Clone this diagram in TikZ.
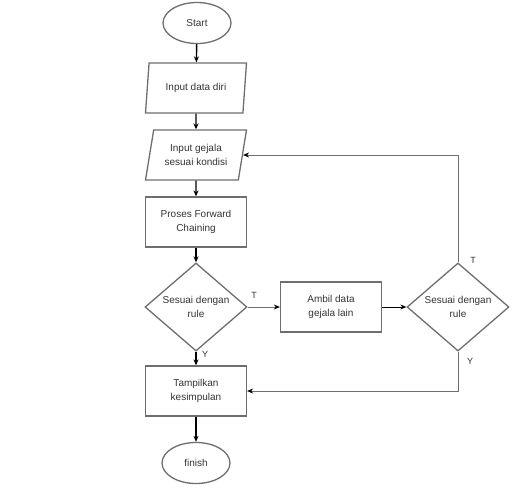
\documentclass[tikz,border=0pt]{standalone}
\usepackage{fontspec}
\setmainfont{Liberation Sans}
\usetikzlibrary{shapes.geometric, arrows.meta}

\definecolor{edgegray}{HTML}{6E6E6E}
\definecolor{textgray}{HTML}{333333}

\tikzset{
  box/.style={draw=edgegray, line width=1.3pt, text=textgray, align=center,
    minimum width=101pt, minimum height=50pt, inner sep=0pt},
  ioslant/.style={box, trapezium, trapezium left angle=69, trapezium right angle=111,
    trapezium stretches body=true},
  ask/.style={box, diamond, minimum width=102pt, minimum height=86pt},
  term/.style={box, ellipse, minimum width=68pt, minimum height=41pt},
  flow/.style={line width=1.4pt, -{Stealth[length=6pt, width=5pt]}},
  back/.style={draw=edgegray, line width=0.9pt, -{Stealth[length=6pt, width=5pt, black]}},
  tag/.style={text=textgray, font=\fontsize{9}{10}\selectfont}
}

\begin{document}
\begin{tikzpicture}[x=1pt, y=1pt, font=\fontsize{10}{14}\selectfont]
  \useasboundingbox (0,0) rectangle (522,-493);

  \node [term]    (start) at (197, -23)  {Start};
  \node [ioslant] (self)  at (196, -88)  {Input data diri};
  \node [ioslant] (sympt) at (196, -155) {Input gejala\\sesuai kondisi};
  \node [box]     (fwd)   at (196, -222) {Proses Forward\\Chaining};
  \node [ask]     (rule)  at (196, -307) {Sesuai dengan\\rule};
  \node [box]     (other) at (331, -307) {Ambil data\\gejala lain};
  \node [ask]     (again) at (458, -307) {Sesuai dengan\\rule};
  \node [box]     (show)  at (196, -391) {Tampilkan\\kesimpulan};
  \node [term]    (end)   at (196, -463) {finish};

  \draw [flow] (start) -- (self);
  \draw [flow] (self) -- (sympt);
  \draw [flow] (sympt) -- (fwd);
  \draw [flow] (fwd) -- (rule);
  \draw [flow] (rule) -- (show);
  \draw [flow] (show) -- (end);
  \draw [back] (rule) -- (other);
  \draw [flow, line width=1pt] (other) -- (again);
  \draw [back] (again.north) |- (sympt.east);
  \draw [back] (again.south) |- (show.east);

  \node [tag] (t1) at (254, -295) {T};
  \node [tag] (y1) at (205, -354) {Y};
  \node [tag] (t2) at (473, -260) {T};
  \node [tag] (y2) at (470, -361) {Y};
\end{tikzpicture}
\end{document}
